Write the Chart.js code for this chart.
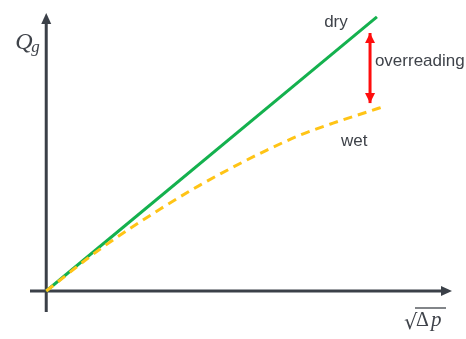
<!DOCTYPE html>
<html>
<head>
<meta charset="utf-8">
<script src="https://cdn.jsdelivr.net/npm/chart.js@4/dist/chart.umd.min.js"></script>
<style>
  html, body { margin: 0; padding: 0; background: #ffffff; }
  #wrap { width: 466px; height: 339px; }
</style>
</head>
<body>
<div id="wrap"><canvas id="c" width="466" height="339"></canvas></div>
<script>
// Gas flow rate vs. square root of differential pressure (schematic units)
const dryX = [0, 8.15];
const dryY = [0, 9.86];

const wetX = [0, 1.33, 2.81, 3.79, 4.61, 5.44, 6.26, 7.07, 7.91, 8.35];
const wetY = [0, 1.51, 2.95, 3.81, 4.46, 5.07, 5.61, 6.04, 6.44, 6.65];

// Overreading gap marker
const gapX = [7.98, 7.98];
const gapY = [6.76, 9.28];

const seriesNames = ['dry', 'wet', 'overreading'];

const toPts = (xs, ys) => xs.map((x, i) => ({ x: x, y: ys[i] }));

const AXIS_COLOR = '#3b4048';
const TEXT_COLOR = '#3f434a';

const decorations = {
  id: 'decorations',
  beforeDatasetsDraw(chart) {
    const ctx = chart.ctx;
    const xs = chart.scales.x, ys = chart.scales.y;
    const x0 = xs.getPixelForValue(0), y0 = ys.getPixelForValue(0);
    const xL = xs.getPixelForValue(xs.min), xR = xs.getPixelForValue(xs.max);
    const yB = ys.getPixelForValue(ys.min), yT = ys.getPixelForValue(ys.max);
    ctx.save();
    ctx.strokeStyle = AXIS_COLOR;
    ctx.fillStyle = AXIS_COLOR;
    ctx.lineWidth = 3;
    // y axis
    ctx.beginPath();
    ctx.moveTo(x0, yB); ctx.lineTo(x0, yT + 8); ctx.stroke();
    ctx.beginPath();
    ctx.moveTo(x0, yT); ctx.lineTo(x0 - 5, yT + 11); ctx.lineTo(x0 + 5, yT + 11); ctx.closePath(); ctx.fill();
    // x axis
    ctx.beginPath();
    ctx.moveTo(xL, y0); ctx.lineTo(xR - 8, y0); ctx.stroke();
    ctx.beginPath();
    ctx.moveTo(xR, y0); ctx.lineTo(xR - 11, y0 - 5); ctx.lineTo(xR - 11, y0 + 5); ctx.closePath(); ctx.fill();
    ctx.restore();
  },
  afterDatasetsDraw(chart) {
    const ctx = chart.ctx;
    const xs = chart.scales.x, ys = chart.scales.y;
    const px = v => xs.getPixelForValue(v), py = v => ys.getPixelForValue(v);
    ctx.save();
    // arrowheads on the gap marker
    const ax = px(gapX[0]), aLo = py(gapY[0]), aHi = py(gapY[1]);
    ctx.fillStyle = '#ff0d0d';
    ctx.beginPath();
    ctx.moveTo(ax, aHi); ctx.lineTo(ax - 5, aHi + 10); ctx.lineTo(ax + 5, aHi + 10); ctx.closePath(); ctx.fill();
    ctx.beginPath();
    ctx.moveTo(ax, aLo); ctx.lineTo(ax - 5, aLo - 10); ctx.lineTo(ax + 5, aLo - 10); ctx.closePath(); ctx.fill();

    // series labels
    ctx.fillStyle = TEXT_COLOR;
    ctx.font = '17px "Liberation Sans", Arial, sans-serif';
    ctx.textBaseline = 'middle';
    ctx.textAlign = 'center';
    ctx.fillText(seriesNames[0], px(7.14), py(9.68));
    ctx.fillText(seriesNames[1], px(7.59), py(5.40));
    ctx.textAlign = 'left';
    ctx.fillText(seriesNames[2], px(8.10), py(8.25));

    // axis titles
    const x0 = px(0);
    ctx.font = 'italic 24px "Liberation Serif", "DejaVu Serif", serif';
    ctx.textAlign = 'left';
    ctx.textBaseline = 'alphabetic';
    ctx.fillText('Q', x0 - 31, 49);
    ctx.font = 'italic 17px "Liberation Serif", "DejaVu Serif", serif';
    ctx.fillText('g', x0 - 15, 52);

    const rx = 404, ry = 329;
    ctx.font = '21px "DejaVu Serif", serif';
    ctx.fillText('\u221A', rx, ry);
    ctx.font = '20px "Liberation Serif", serif';
    ctx.fillText('\u0394', rx + 12, ry - 3);
    ctx.font = 'italic 21px "Liberation Serif", serif';
    ctx.fillText('p', rx + 27, ry - 3);
    ctx.strokeStyle = TEXT_COLOR;
    ctx.lineWidth = 1.3;
    ctx.beginPath();
    ctx.moveTo(rx + 11, 308); ctx.lineTo(rx + 42, 308); ctx.stroke();
    ctx.restore();
  }
};

new Chart(document.getElementById('c'), {
  type: 'scatter',
  data: {
    datasets: [
      {
        label: seriesNames[0],
        data: toPts(dryX, dryY),
        showLine: true,
        borderColor: '#14b14e',
        borderWidth: 3,
        pointRadius: 0,
        order: 2
      },
      {
        label: seriesNames[1],
        data: toPts(wetX, wetY),
        showLine: true,
        borderColor: '#ffc416',
        borderWidth: 3,
        borderDash: [9, 6],
        cubicInterpolationMode: 'monotone',
        pointRadius: 0,
        order: 1
      },
      {
        label: seriesNames[2],
        data: toPts(gapX, gapY),
        showLine: true,
        borderColor: '#ff0d0d',
        borderWidth: 3,
        pointRadius: 0,
        order: 0
      }
    ]
  },
  options: {
    responsive: false,
    animation: false,
    layout: { padding: { left: 30, right: 14, top: 13, bottom: 27 } },
    plugins: { legend: { display: false }, tooltip: { enabled: false } },
    scales: {
      x: { type: 'linear', min: -0.4, max: 10, display: false },
      y: { type: 'linear', min: -0.755, max: 10, display: false }
    }
  },
  plugins: [decorations]
});
</script>
</body>
</html>
